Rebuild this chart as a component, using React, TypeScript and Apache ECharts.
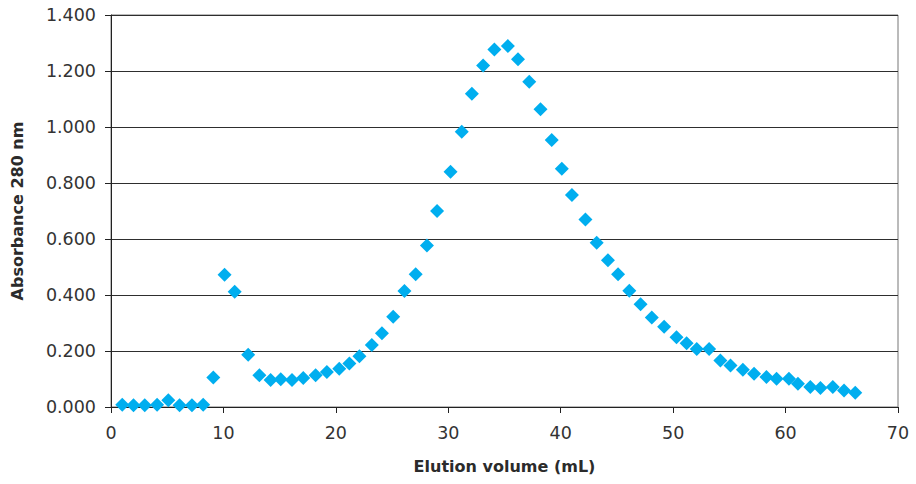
import React, { useEffect, useRef } from "react";
import * as echarts from "echarts";

const elutionVolume: number[] = [
  1.0, 2.0, 3.0, 4.1, 5.1, 6.1, 7.2, 8.2, 9.1, 10.1,
  11.0, 12.2, 13.2, 14.2, 15.1, 16.1, 17.1, 18.2, 19.2, 20.3,
  21.2, 22.1, 23.2, 24.1, 25.1, 26.1, 27.1, 28.1, 29.0, 30.2,
  31.2, 32.1, 33.1, 34.1, 35.3, 36.2, 37.2, 38.2, 39.2, 40.1,
  41.0, 42.2, 43.2, 44.2, 45.1, 46.1, 47.1, 48.1, 49.2, 50.3,
  51.2, 52.1, 53.2, 54.2, 55.1, 56.2, 57.2, 58.3, 59.2, 60.3,
  61.1, 62.2, 63.1, 64.2, 65.2, 66.2,
];

const absorbance: number[] = [
  0.008, 0.006, 0.006, 0.008, 0.024, 0.006, 0.006, 0.008, 0.105, 0.472,
  0.412, 0.187, 0.113, 0.096, 0.099, 0.096, 0.104, 0.113, 0.125, 0.137,
  0.155, 0.181, 0.221, 0.263, 0.322, 0.414, 0.474, 0.577, 0.700, 0.840,
  0.983, 1.119, 1.220, 1.277, 1.289, 1.242, 1.162, 1.063, 0.954, 0.851,
  0.757, 0.670, 0.587, 0.524, 0.474, 0.415, 0.367, 0.320, 0.287, 0.249,
  0.228, 0.207, 0.207, 0.166, 0.148, 0.133, 0.119, 0.107, 0.101, 0.101,
  0.083, 0.071, 0.068, 0.071, 0.059, 0.051,
];

const xTitle = "Elution volume (mL)";
const yTitle = "Absorbance 280 nm";

export default function App() {
  const ref = useRef<HTMLDivElement>(null);

  useEffect(() => {
    if (!ref.current) return;
    const chart = echarts.init(ref.current, null, { renderer: "svg" });
    const data = elutionVolume.map((x, i) => [x, absorbance[i]]);
    const font = "DejaVu Sans";
    chart.setOption({
      animation: false,
      backgroundColor: "#ffffff",
      grid: {
        left: 111,
        right: 18,
        top: 15,
        bottom: 77,
        show: true,
        borderColor: "#777777",
        borderWidth: 1,
      },
      xAxis: {
        type: "value",
        min: 0,
        max: 70,
        interval: 10,
        name: xTitle,
        nameLocation: "middle",
        nameGap: 51,
        nameTextStyle: {
          fontFamily: font,
          fontWeight: "bold",
          fontSize: 16,
          color: "#2b2b2b",
        },
        axisLine: { show: true, onZero: false, lineStyle: { color: "#222222", width: 1 } },
        axisTick: { show: true, length: 6, lineStyle: { color: "#222222" } },
        axisLabel: {
          margin: 17,
          fontFamily: font,
          fontSize: 17.5,
          color: "#333333",
        },
        splitLine: { show: false },
      },
      yAxis: {
        type: "value",
        min: 0,
        max: 1.4,
        interval: 0.2,
        name: yTitle,
        nameLocation: "middle",
        nameGap: 86,
        nameTextStyle: {
          fontFamily: font,
          fontWeight: "bold",
          fontSize: 16,
          color: "#2b2b2b",
        },
        axisLine: { show: true, lineStyle: { color: "#222222", width: 1 } },
        axisTick: { show: true, length: 6, lineStyle: { color: "#222222" } },
        axisLabel: {
          margin: 15,
          fontFamily: font,
          fontSize: 17.5,
          color: "#333333",
          formatter: (v: number) => v.toFixed(3),
        },
        splitLine: { show: true, lineStyle: { color: "#2e2e2e", width: 1 } },
      },
      series: [
        {
          type: "scatter",
          data,
          symbol: "diamond",
          symbolSize: [14, 14],
          itemStyle: { color: "#00AEEF", opacity: 1 },
        },
      ],
    });
    return () => chart.dispose();
  }, []);

  return (
    <div
      ref={ref}
      style={{ position: "absolute", left: 0, top: 0, width: 916, height: 484 }}
    />
  );
}
